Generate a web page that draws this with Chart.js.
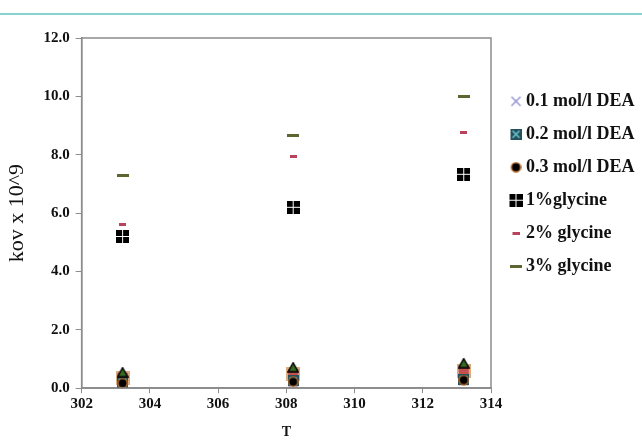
<!DOCTYPE html>
<html>
<head>
<meta charset="utf-8">
<script src="https://cdn.jsdelivr.net/npm/chart.js@4/dist/chart.umd.min.js"></script>
<style>
  html, body { margin: 0; padding: 0; background: #fff; }
  #wrap { position: relative; width: 642px; height: 447px; }
  #topline { position: absolute; left: 0; top: 13px; width: 642px; height: 2px; background: #86d3cf; }
</style>
</head>
<body>
<div id="wrap">
  <div id="topline"></div>
  <canvas id="c" width="642" height="447"></canvas>
</div>
<script>
const temps = [303.2, 308.2, 313.2]
const dea01 = [0.15, 0.2, 0.25]
const dea02 = [0.2, 0.25, 0.3]
const dea03 = [0.17, 0.22, 0.28]
const gly1 = [5.2, 6.2, 7.33]
const gly2 = [5.6, 7.95, 8.75]
const gly3 = [7.3, 8.65, 10.0]
const extraTri = [0.55, 0.72, 0.86]
const extraSq = [0.36, 0.48, 0.6]
const xTicks = [302, 304, 306, 308, 310, 312, 314]
const yTicks = [0, 2, 4, 6, 8, 10, 12]

const serif = "'Liberation Serif', 'Times New Roman', serif"

// little canvases used as point styles
const mk = (w, h, draw) => {
  const c = document.createElement('canvas')
  c.width = w
  c.height = h
  draw(c.getContext('2d'), w, h)
  return c
}

// legend copy of a marker, shifted a bit to the right
const shifted = (img) => mk(img.width + 9, img.height, (g) => g.drawImage(img, 9, 0))

const crossImg = mk(11, 11, (g, w, h) => {
  g.strokeStyle = '#8f8fcf'
  g.lineWidth = 1.4
  g.beginPath()
  g.moveTo(1, 1); g.lineTo(w - 1, h - 1)
  g.moveTo(w - 1, 1); g.lineTo(1, h - 1)
  g.stroke()
})
const tealImg = mk(11, 11, (g, w, h) => {
  g.fillStyle = '#24505e'
  g.fillRect(0, 0, w, h)
  g.strokeStyle = '#6cc6cc'
  g.lineWidth = 1.5
  g.beginPath()
  g.moveTo(2, 2); g.lineTo(w - 2, h - 2)
  g.moveTo(w - 2, 2); g.lineTo(2, h - 2)
  g.stroke()
})
const circleImg = mk(11, 11, (g, w, h) => {
  g.fillStyle = '#000'
  g.strokeStyle = '#b86a26'
  g.lineWidth = 1.4
  g.beginPath()
  g.arc(w / 2, h / 2, 4.6, 0, Math.PI * 2)
  g.fill()
  g.stroke()
})
const gridSqImg = mk(13, 13, (g, w, h) => {
  g.fillStyle = '#000'
  g.fillRect(0, 0, w, h)
  g.fillStyle = '#fff'
  g.fillRect(6, 0, 1, h)
  g.fillRect(0, 6, w, 1)
})
const dash2Img = mk(7, 3, (g, w, h) => {
  g.fillStyle = '#b8435a'
  g.fillRect(0, 0, w, h)
})
const dash3Img = mk(12, 3, (g, w, h) => {
  g.fillStyle = '#5d6530'
  g.fillRect(0, 0, w, h)
})
const triImg = mk(12, 11, (g, w, h) => {
  g.fillStyle = '#356b22'
  g.strokeStyle = '#000'
  g.lineWidth = 1.5
  g.beginPath()
  g.moveTo(w / 2, 1); g.lineTo(w - 1, h - 1); g.lineTo(1, h - 1)
  g.closePath()
  g.fill()
  g.stroke()
})
const redSqImg = mk(14, 14, (g, w, h) => {
  g.fillStyle = '#d9ad80'
  g.fillRect(0, 0, w, h)
  g.fillStyle = '#c4504f'
  g.fillRect(2, 2, w - 4, h - 5)
})

const pts = (ys) => ys.map((y, i) => ({ x: temps[i], y }))

const series = [
  { label: '0.1 mol/l DEA', data: pts(dea01), img: crossImg, order: 9 },
  { label: '0.2 mol/l DEA', data: pts(dea02), img: tealImg, order: 8 },
  { label: '0.3 mol/l DEA', data: pts(dea03), img: circleImg, order: 1 },
  { label: '1%glycine', data: pts(gly1), img: gridSqImg, order: 2 },
  { label: '2% glycine', data: pts(gly2), img: dash2Img, order: 3 },
  { label: '3% glycine', data: pts(gly3), img: dash3Img, order: 4 },
  { label: '', data: pts(extraTri), img: triImg, order: 5 },
  { label: '', data: pts(extraSq), img: redSqImg, order: 10 },
]

// frame round the plot area
const frame = {
  id: 'frame',
  afterDatasetsDraw(chart) {
    const { ctx, chartArea: a } = chart
    ctx.save()
    ctx.strokeStyle = '#8c8c8c'
    ctx.lineWidth = 1.5
    ctx.strokeRect(a.left, a.top, a.right - a.left, a.bottom - a.top)
    ctx.restore()
  },
}

new Chart(document.getElementById('c'), {
  type: 'scatter',
  data: {
    datasets: series.map((s) => ({
      label: s.label,
      data: s.data,
      pointStyle: s.img,
      order: s.order,
      showLine: false,
    })),
  },
  options: {
    responsive: false,
    animation: false,
    layout: { padding: { top: 38, left: 0, right: 0, bottom: 2 } },
    plugins: {
      tooltip: { enabled: false },
      legend: {
        position: 'right',
        align: 'start',
        maxWidth: 151,
        title: { display: true, text: ' ', padding: { top: 38, bottom: 0 }, font: { size: 1 } },
        labels: {
          generateLabels: (chart) =>
            Chart.defaults.plugins.legend.labels.generateLabels(chart).map((item) => ({
              ...item,
              pointStyle: shifted(series[item.datasetIndex].img),
            })),
          filter: (item) => item.text !== '',
          sort: (a, b) => a.datasetIndex - b.datasetIndex,
          usePointStyle: true,
          pointStyleWidth: 11,
          color: '#111',
          padding: 15,
          font: { family: serif, size: 18, weight: 'bold' },
        },
      },
    },
    scales: {
      x: {
        type: 'linear',
        min: 302,
        max: 314,
        afterBuildTicks: (axis) => { axis.ticks = xTicks.map((v) => ({ value: v })) },
        afterFit: (axis) => { axis.paddingRight = 0 },
        grid: { drawOnChartArea: false, tickLength: 5, color: '#8c8c8c' },
        border: { color: '#8c8c8c', width: 1.5 },
        ticks: { color: '#111', padding: 2, font: { family: serif, size: 15, weight: 'bold' } },
        title: { display: true, text: 'T', color: '#111', padding: { top: 9 }, font: { family: serif, size: 14, weight: 'bold' } },
      },
      y: {
        min: 0,
        max: 12,
        afterBuildTicks: (axis) => { axis.ticks = yTicks.map((v) => ({ value: v })) },
        grid: { drawOnChartArea: false, tickLength: 6, color: '#8c8c8c' },
        border: { color: '#8c8c8c', width: 1.5 },
        ticks: {
          color: '#111',
          padding: 6,
          font: { family: serif, size: 15, weight: 'bold' },
          callback: (v) => v.toFixed(1),
        },
        title: { display: true, text: 'kov x 10^9', color: '#111', padding: { bottom: 7 }, font: { family: serif, size: 22 } },
      },
    },
  },
  plugins: [frame],
})
</script>
</body>
</html>
